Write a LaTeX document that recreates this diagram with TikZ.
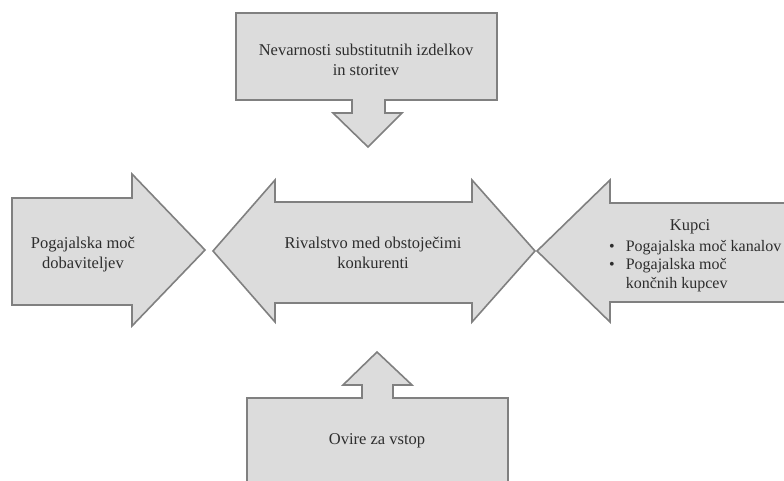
\documentclass[tikz,border=0pt]{standalone}
\usepackage{fontspec}
\setmainfont{Liberation Serif}
\definecolor{arrowfill}{RGB}{220,220,220}
\definecolor{arrowline}{RGB}{128,128,128}
\definecolor{labeltext}{RGB}{45,45,45}
\begin{document}
\begin{tikzpicture}[x=1pt,y=-1pt,
  blockarrow/.style={fill=arrowfill,draw=arrowline,line width=1.6pt,line join=miter},
  label/.style={text=labeltext,font=\fontsize{16.5}{20}\selectfont,align=center,inner sep=0pt}]
\useasboundingbox (0,0) rectangle (784,481);
\clip (0,0) rectangle (784,481);
% threat of substitutes: callout pointing down
\draw[blockarrow] (236,13) -- (497,13) -- (497,100) -- (385,100) -- (385,113) -- (402,113)
  -- (368,147) -- (333,113) -- (352,113) -- (352,100) -- (236,100) -- cycle;
% supplier power: arrow pointing right
\draw[blockarrow] (12,198) -- (132,198) -- (132,174) -- (205,250) -- (132,326) -- (132,305)
  -- (12,305) -- cycle;
% rivalry: double-headed arrow
\draw[blockarrow] (213,251) -- (275,180) -- (275,202) -- (472,202) -- (472,180) -- (535,251)
  -- (472,322) -- (472,303) -- (275,303) -- (275,322) -- cycle;
% buyers: arrow pointing left
\draw[blockarrow] (537,251) -- (610,180) -- (610,203) -- (790,203) -- (790,302) -- (610,302)
  -- (610,322) -- cycle;
% barriers to entry: callout pointing up
\draw[blockarrow] (247,398) -- (362,398) -- (362,385) -- (343,385) -- (377,352) -- (412,385)
  -- (393,385) -- (393,398) -- (508,398) -- (508,495) -- (247,495) -- cycle;

\node[label] (subst) at (366,60) {Nevarnosti substitutnih izdelkov\\in storitev};
\node[label] (supp) at (83,255) {Pogajalska moč\\dobaviteljev};
\node[label] (rival) at (373,253) {Rivalstvo med obstoječimi\\konkurenti};
\node[label,anchor=base] (buyers) at (690,230) {Kupci};
\node[label,anchor=north west,font=\fontsize{16}{18.5}\selectfont] (buylist) at (609,238)
  {\begin{tabular}{@{}l@{\hspace{11pt}}l@{}}
   • & Pogajalska moč kanalov\\
   • & Pogajalska moč\\
     & končnih kupcev
   \end{tabular}};
\node[label] (entry) at (377,441) {Ovire za vstop};
\end{tikzpicture}
\end{document}
